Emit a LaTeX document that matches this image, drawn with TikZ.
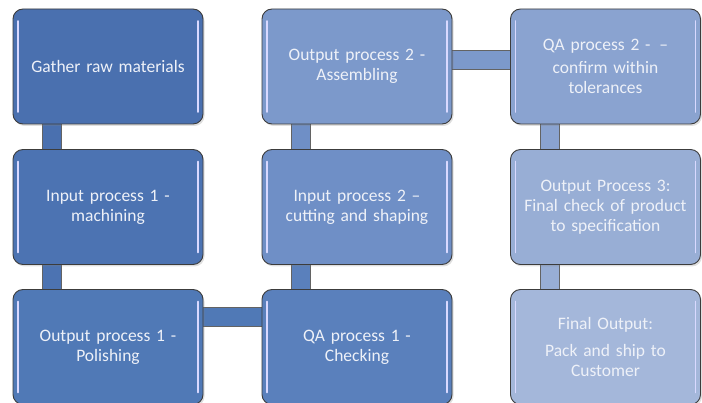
\documentclass[tikz,border=0pt]{standalone}
\usepackage{fontspec}
\setmainfont{Carlito}
\usetikzlibrary{backgrounds,shadows}
\definecolor{cA}{HTML}{4A70AF}
\definecolor{cB}{HTML}{4C73B2}
\definecolor{cC}{HTML}{5079B6}
\definecolor{cD}{HTML}{5A80BC}
\definecolor{cE}{HTML}{6F8FC6}
\definecolor{cF}{HTML}{7C99CB}
\definecolor{cG}{HTML}{8AA3D0}
\definecolor{cH}{HTML}{98AED5}
\definecolor{cI}{HTML}{A4B7DA}
\definecolor{edge}{HTML}{3C3C3C}
\definecolor{txt}{HTML}{EEF1F8}
\tikzset{
  pbox/.style={draw=edge, line width=0.9pt, rounded corners=10pt,
    minimum width=190pt, minimum height=115pt, inner sep=0pt,
    text width=184pt, align=center, text=txt,
    font=\fontsize{17.5pt}{20pt}\selectfont,
    drop shadow={shadow xshift=1.5pt, shadow yshift=-2pt, opacity=0.25},
    path picture={
      \draw[white!85!blue, line width=1.6pt, line cap=round]
        ([xshift=5pt,yshift=-12pt]path picture bounding box.north west) --
        ([xshift=5pt,yshift=12pt]path picture bounding box.south west);
      \draw[white!85!blue, line width=1.6pt, line cap=round]
        ([xshift=-5pt,yshift=-12pt]path picture bounding box.north east) --
        ([xshift=-5pt,yshift=12pt]path picture bounding box.south east);
    }},
  barlink/.style={draw=edge!80, line width=1pt, double distance=18pt}
}
\begin{document}
\begin{tikzpicture}[x=1pt,y=-1pt]
\useasboundingbox (0,0) rectangle (702,403);
\node[pbox, fill=cA] (g)  at (108,66.5) {Gather raw materials};
\node[pbox, fill=cB] (i1) at (108,207)  {Input process 1 -\\machining};
\node[pbox, fill=cC] (o1) at (108,347)  {Output process 1 -\\Polishing};
\node[pbox, fill=cD] (q1) at (357,347)  {QA process 1 -\\Checking};
\node[pbox, fill=cE] (i2) at (357,207)  {Input process 2 –\\cutting and shaping};
\node[pbox, fill=cF] (o2) at (357,66.5) {Output process 2 -\\Assembling};
\node[pbox, fill=cG] (q2) at (605.5,66.5) {\fontsize{17.5pt}{23pt}\selectfont QA process 2 - \,–\\confirm within\\tolerances};
\node[pbox, fill=cH] (o3) at (605.5,207) {Output Process 3:\\Final check of product\\to specification};
\node[pbox, fill=cI] (f)  at (605.5,347) {Final Output:\\[7pt]Pack and ship to\\Customer};
\begin{scope}[on background layer]
\draw[barlink, double=cA] ([xshift=-56pt]g.center) -- ([xshift=-56pt]i1.center);
\draw[barlink, double=cB] ([xshift=-56pt]i1.center) -- ([xshift=-56pt]o1.center);
\draw[barlink, double=cC] ([yshift=30pt]o1.center) -- ([yshift=30pt]q1.center);
\draw[barlink, double=cD] ([xshift=-56pt]q1.center) -- ([xshift=-56pt]i2.center);
\draw[barlink, double=cE] ([xshift=-56pt]i2.center) -- ([xshift=-56pt]o2.center);
\draw[barlink, double=cF] ([yshift=6.5pt]o2.center) -- ([yshift=6.5pt]q2.center);
\draw[barlink, double=cG] ([xshift=-55.5pt]q2.center) -- ([xshift=-55.5pt]o3.center);
\draw[barlink, double=cH] ([xshift=-55.5pt]o3.center) -- ([xshift=-55.5pt]f.center);
\end{scope}
\end{tikzpicture}
\end{document}
